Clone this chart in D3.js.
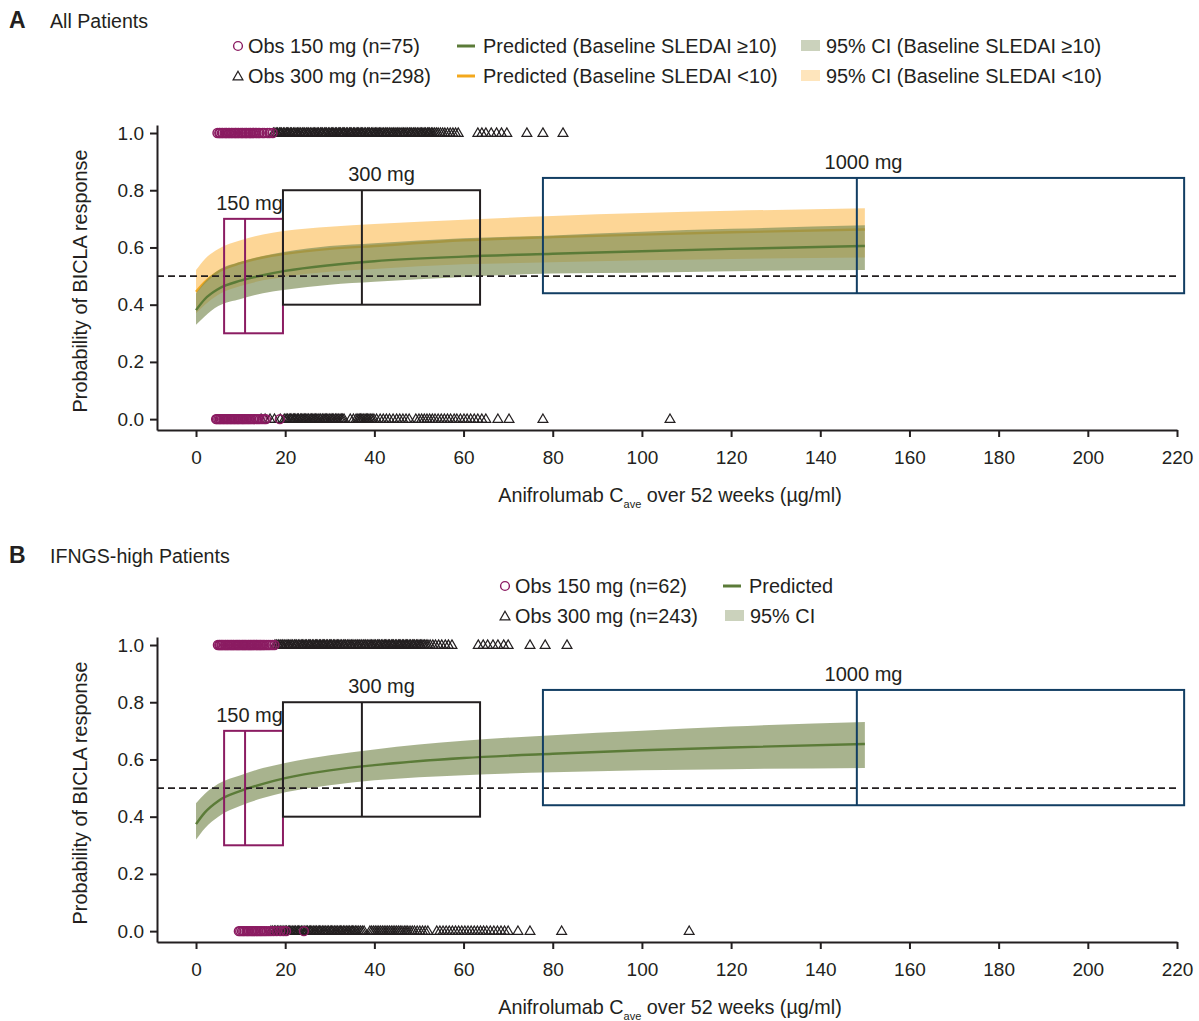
<!DOCTYPE html>
<html>
<head>
<meta charset="utf-8">
<script src="https://cdn.jsdelivr.net/npm/d3@7"></script>
<style>
body { margin: 0; background: #fff; }
text { font-family: "Liberation Sans", Arial, sans-serif; fill: #231f20; }
</style>
</head>
<body>
<svg id="chart" width="1199" height="1021"></svg>
<script>
// concentration grid for the model curves (ug/ml)
var concGrid = [0, 2, 5, 10, 15, 20, 30, 40, 60, 80, 100, 120, 150];

// panel A - baseline SLEDAI >= 10
var predHighA = [0.381, 0.420, 0.455, 0.484, 0.503, 0.518, 0.538, 0.552, 0.568, 0.578, 0.587, 0.595, 0.605];
var ciHighUpA = [0.440, 0.480, 0.520, 0.550, 0.570, 0.585, 0.605, 0.615, 0.632, 0.642, 0.655, 0.665, 0.678];
var ciHighLoA = [0.330, 0.360, 0.395, 0.420, 0.440, 0.452, 0.470, 0.480, 0.497, 0.509, 0.512, 0.517, 0.521];
// panel A - baseline SLEDAI < 10
var predLowA = [0.445, 0.480, 0.515, 0.545, 0.565, 0.578, 0.595, 0.605, 0.625, 0.636, 0.645, 0.653, 0.663];
var ciLowUpA = [0.521, 0.560, 0.595, 0.625, 0.645, 0.658, 0.672, 0.682, 0.697, 0.710, 0.720, 0.728, 0.737];
var ciLowLoA = [0.370, 0.400, 0.435, 0.465, 0.485, 0.498, 0.515, 0.525, 0.541, 0.548, 0.555, 0.560, 0.565];
// panel B - IFNGS-high
var predB = [0.374, 0.415, 0.455, 0.490, 0.515, 0.535, 0.562, 0.580, 0.605, 0.620, 0.632, 0.642, 0.654];
var ciUpB = [0.447, 0.480, 0.515, 0.545, 0.570, 0.588, 0.615, 0.635, 0.665, 0.685, 0.700, 0.715, 0.731];
var ciLoB = [0.320, 0.360, 0.400, 0.438, 0.465, 0.485, 0.510, 0.527, 0.545, 0.555, 0.562, 0.566, 0.570];

// observed exposure, responders (1) and non-responders (0)
var obsA150Resp = [4.8, 5.2, 5.4, 5.8, 6.0, 6.4, 6.7, 6.9, 7.3, 7.5, 7.9, 8.1, 8.5, 8.8, 9.0, 9.4, 9.6, 10.0, 10.3, 10.5, 10.9, 11.2, 11.4, 11.8, 12.1, 12.3, 12.7, 12.9, 13.3, 13.6, 14.0, 14.3, 14.9, 15.3, 16.0, 16.5, 17.2];
var obsA150Non = [4.5, 4.7, 5.0, 5.3, 5.5, 5.8, 6.1, 6.3, 6.6, 6.9, 7.1, 7.4, 7.7, 7.9, 8.2, 8.5, 8.7, 9.0, 9.3, 9.5, 9.8, 10.1, 10.4, 10.6, 10.9, 11.2, 11.5, 11.8, 12.1, 12.4, 12.8, 13.1, 13.5, 13.9, 14.3, 14.8, 15.3, 15.7, 18.8];
var obsA300Resp = [17.4, 17.7, 18.1, 18.3, 18.7, 19.0, 19.2, 19.6, 19.9, 20.3, 20.5, 20.8, 21.2, 21.4, 21.8, 22.0, 22.4, 22.7, 22.9, 23.3, 23.5, 23.9, 24.2, 24.4, 24.8, 25.1, 25.3, 25.7, 26.0, 26.4, 26.6, 26.9, 27.3, 27.5, 27.9, 28.2, 28.4, 28.8, 29.1, 29.3, 29.7, 30.0, 30.4, 30.6, 30.9, 31.3, 31.5, 31.9, 32.2, 32.4, 32.8, 33.1, 33.3, 33.7, 34.0, 34.4, 34.6, 34.9, 35.3, 35.5, 35.9, 36.2, 36.4, 36.8, 37.1, 37.3, 37.7, 38.0, 38.4, 38.6, 38.9, 39.3, 39.5, 39.9, 40.2, 40.4, 40.8, 41.1, 41.3, 41.7, 42.0, 42.4, 42.6, 42.9, 43.3, 43.5, 43.9, 44.2, 44.4, 44.8, 45.1, 45.3, 45.7, 46.0, 46.4, 46.6, 46.9, 47.3, 47.5, 47.9, 48.2, 48.4, 48.8, 49.1, 49.3, 49.7, 50.0, 50.4, 50.6, 50.9, 51.3, 51.5, 51.9, 52.2, 52.4, 52.8, 53.1, 53.5, 53.9, 54.3, 54.8, 55.3, 55.8, 56.4, 57.0, 57.6, 58.2, 58.8, 63.2, 64.1, 65.0, 66.2, 67.4, 68.5, 69.7, 74.2, 77.8, 82.3];
var obsA300Non = [14.6, 15.5, 16.6, 17.6, 18.9, 19.8, 20.2, 20.5, 20.9, 21.2, 21.5, 21.9, 22.1, 22.4, 22.8, 23.0, 23.4, 23.7, 24.0, 24.3, 24.6, 24.9, 25.2, 25.6, 25.9, 26.2, 26.5, 26.8, 27.1, 27.4, 27.8, 28.0, 28.4, 28.7, 29.0, 29.3, 29.6, 30.0, 30.3, 30.6, 30.9, 31.3, 31.6, 31.9, 32.3, 32.6, 32.9, 33.2, 34.6, 35.3, 35.9, 36.3, 36.6, 36.9, 37.2, 37.5, 37.9, 38.2, 38.5, 38.8, 39.2, 39.5, 39.9, 40.5, 41.3, 42.0, 42.7, 43.4, 44.2, 45.0, 45.7, 46.4, 47.1, 47.8, 49.3, 50.0, 50.6, 51.2, 51.8, 52.4, 53.0, 53.6, 54.3, 55.0, 55.7, 56.4, 57.1, 57.9, 58.5, 59.3, 60.1, 60.8, 61.6, 62.4, 63.2, 64.1, 65.0, 67.7, 70.2, 77.8, 106.3];
var obsB150Resp = [4.9, 5.2, 5.4, 5.7, 5.9, 6.2, 6.5, 6.7, 7.0, 7.2, 7.5, 7.8, 8.0, 8.3, 8.5, 8.8, 9.1, 9.3, 9.6, 9.8, 10.1, 10.4, 10.6, 10.9, 11.1, 11.4, 11.7, 11.9, 12.2, 12.4, 12.7, 13.0, 13.2, 13.5, 13.7, 14.0, 14.3, 14.5, 14.8, 15.1, 15.4, 15.8, 16.2, 16.6, 17.1, 17.6];
var obsB150Non = [9.6, 9.9, 10.3, 10.6, 10.9, 11.3, 11.6, 11.9, 12.3, 12.6, 12.9, 13.3, 13.6, 13.9, 14.3, 14.6, 15.0, 15.4, 15.8, 16.3, 16.8, 17.4, 18.1, 18.9, 19.6, 20.2, 24.2];
var obsB300Resp = [17.7, 18.0, 18.4, 18.6, 19.0, 19.3, 19.5, 19.9, 20.2, 20.6, 20.8, 21.1, 21.5, 21.7, 22.1, 22.4, 22.6, 23.0, 23.3, 23.7, 23.9, 24.2, 24.6, 24.8, 25.2, 25.5, 25.7, 26.1, 26.4, 26.8, 27.0, 27.3, 27.7, 27.9, 28.3, 28.6, 28.8, 29.2, 29.5, 29.9, 30.1, 30.4, 30.8, 31.0, 31.4, 31.7, 31.9, 32.3, 32.6, 33.0, 33.2, 33.5, 33.9, 34.1, 34.5, 34.8, 35.0, 35.4, 35.7, 36.1, 36.3, 36.6, 37.0, 37.2, 37.6, 37.9, 38.1, 38.5, 38.8, 39.2, 39.4, 39.7, 40.1, 40.3, 40.7, 41.0, 41.2, 41.6, 41.9, 42.3, 42.5, 42.8, 43.2, 43.4, 43.8, 44.1, 44.3, 44.7, 45.0, 45.4, 45.6, 45.9, 46.3, 46.5, 46.9, 47.2, 47.4, 47.8, 48.1, 48.5, 48.7, 49.0, 49.4, 49.6, 50.0, 50.3, 50.5, 50.9, 51.2, 51.6, 52.0, 52.5, 53.1, 53.7, 54.4, 55.1, 55.9, 56.6, 57.4, 63.3, 64.4, 65.4, 66.6, 67.7, 69.0, 70.0, 74.9, 78.3, 83.2];
var obsB300Non = [16.8, 17.2, 17.6, 17.9, 18.3, 18.6, 19.0, 19.3, 19.7, 20.0, 20.3, 20.7, 21.0, 21.3, 21.7, 22.0, 22.3, 22.7, 23.0, 23.3, 23.7, 24.0, 24.4, 24.7, 25.0, 25.4, 25.7, 26.0, 26.4, 26.7, 27.0, 27.4, 27.7, 28.0, 28.4, 28.7, 29.0, 29.4, 29.7, 30.1, 30.4, 30.7, 31.1, 31.4, 31.7, 32.1, 32.4, 32.7, 33.1, 33.4, 33.8, 34.1, 34.4, 34.8, 35.1, 35.4, 35.8, 36.1, 36.5, 36.9, 37.3, 37.7, 39.0, 39.4, 39.8, 40.2, 40.6, 41.0, 41.4, 41.8, 42.2, 42.6, 43.0, 43.4, 43.8, 44.2, 44.6, 45.0, 45.4, 45.8, 46.2, 46.7, 47.1, 47.5, 48.0, 48.5, 49.0, 49.6, 50.2, 50.8, 51.4, 52.0, 54.0, 54.7, 55.4, 56.1, 56.8, 57.5, 58.2, 58.9, 59.6, 60.3, 61.0, 61.7, 62.4, 63.1, 63.8, 64.5, 65.2, 66.0, 66.8, 67.6, 68.4, 69.2, 70.0, 72.2, 74.9, 82.0, 110.6];

// simulated exposure boxes per dose (q1, median, q3 of Cave)
var doseLabels = ['150 mg', '300 mg', '1000 mg'];
var doseQ1 = [6.3, 19.5, 77.8];
var doseMed = [11.0, 37.2, 148.2];
var doseQ3 = [19.5, 63.7, 221.6];
var boxLo = [0.30, 0.40, 0.44];
var boxHi = [0.70, 0.80, 0.843];

var xTicks = [0, 20, 40, 60, 80, 100, 120, 140, 160, 180, 200, 220];
var yTicks = [0, 0.2, 0.4, 0.6, 0.8, 1.0];

var ink = '#231f20', purple = '#8b1c62', navy = '#123e63';
var greenLine = '#5b7b38', greenBand = '#7d8e57';
var orangeLine = '#f3a81d', orangeBand = '#fbb540';

var svg = d3.select('#chart');
svg.append('rect').attr('width', 1199).attr('height', 1021).attr('fill', '#fff');

var x = d3.scaleLinear().domain([-8.75, 220]).range([157, 1177]);

function series(vals) {
    return concGrid.map(function(c, i) { return {c: c, v: vals[i]}; });
}
function bandData(lo, hi) {
    return concGrid.map(function(c, i) { return {c: c, lo: lo[i], hi: hi[i]}; });
}

var triangle = d3.symbol().type(d3.symbolTriangle).size(42);

function drawPanel(p) {
    var g = svg.append('g');
    var y = d3.scaleLinear().domain([-0.038, 1.028]).range([p.axisY, p.axisY - 305]);

    var area = d3.area().curve(d3.curveMonotoneX)
        .x(function(d) { return x(d.c); })
        .y0(function(d) { return y(d.lo); })
        .y1(function(d) { return y(d.hi); });
    var line = d3.line().curve(d3.curveMonotoneX)
        .x(function(d) { return x(d.c); })
        .y(function(d) { return y(d.v); });

    // title
    g.append('text').attr('x', 9).attr('y', p.titleY)
        .style('font-size', '23px').style('font-weight', 'bold').text(p.key);
    g.append('text').attr('x', 50).attr('y', p.titleY)
        .style('font-size', '19.6px').text(p.title);

    // model curves
    p.curves.forEach(function(cv) {
        g.append('path').datum(bandData(cv.lo, cv.hi))
            .attr('d', area).attr('fill', cv.band).attr('fill-opacity', cv.bandOpacity);
        g.append('path').datum(series(cv.pred))
            .attr('d', line).attr('fill', 'none').attr('stroke', cv.line).attr('stroke-width', 2.4);
    });

    // 50% reference line
    g.append('line')
        .attr('x1', x(-8.75)).attr('x2', x(220))
        .attr('y1', y(0.5)).attr('y2', y(0.5))
        .attr('stroke', ink).attr('stroke-width', 1.8).attr('stroke-dasharray', '7,4');

    // exposure boxes
    var boxColors = [purple, ink, navy];
    doseLabels.forEach(function(lbl, i) {
        var bg = g.append('g').attr('fill', 'none').attr('stroke', boxColors[i]).attr('stroke-width', 2);
        bg.append('rect')
            .attr('x', x(doseQ1[i])).attr('y', y(boxHi[i]))
            .attr('width', x(doseQ3[i]) - x(doseQ1[i]))
            .attr('height', y(boxLo[i]) - y(boxHi[i]));
        bg.append('line')
            .attr('x1', x(doseMed[i])).attr('x2', x(doseMed[i]))
            .attr('y1', y(boxHi[i])).attr('y2', y(boxLo[i]));
        g.append('text')
            .attr('x', (x(doseQ1[i]) + x(doseQ3[i])) / 2 - (i === 0 ? 4 : 0))
            .attr('y', y(boxHi[i]) - 9)
            .attr('text-anchor', 'middle').style('font-size', '20px').text(lbl);
    });

    // observations
    p.obs.forEach(function(o) {
        if (o.shape === 'circle') {
            g.selectAll(null).data(o.vals).enter().append('circle')
                .attr('cx', function(d) { return x(d); }).attr('cy', y(o.resp))
                .attr('r', 4.4).attr('fill', 'none').attr('stroke', purple).attr('stroke-width', 1.5);
        } else {
            g.selectAll(null).data(o.vals).enter().append('path')
                .attr('d', triangle)
                .attr('transform', function(d) { return 'translate(' + x(d) + ',' + (y(o.resp) + 0.5) + ')'; })
                .attr('fill', 'none').attr('stroke', ink).attr('stroke-width', 1.2);
        }
    });

    // axes
    var xAxis = d3.axisBottom(x).tickValues(xTicks).tickSize(7).tickSizeOuter(0)
        .tickPadding(14).tickFormat(d3.format('d'));
    var yAxis = d3.axisLeft(y).tickValues(yTicks).tickSize(7).tickSizeOuter(0)
        .tickPadding(6).tickFormat(d3.format('.1f'));
    [g.append('g').attr('transform', 'translate(0,' + p.axisY + ')').call(xAxis),
     g.append('g').attr('transform', 'translate(157,0)').call(yAxis)].forEach(function(ax) {
        ax.select('.domain').attr('stroke', ink).attr('stroke-width', 2);
        ax.selectAll('.tick line').attr('stroke', ink).attr('stroke-width', 2);
        ax.selectAll('.tick text').style('font-size', '19px').style('font-family', '"Liberation Sans", Arial, sans-serif').attr('fill', ink);
    });

    // axis titles
    var xl = g.append('text').attr('x', 670).attr('y', p.axisY + 72)
        .attr('text-anchor', 'middle').style('font-size', '19.8px');
    xl.append('tspan').text('Anifrolumab C');
    xl.append('tspan').attr('dy', 6).style('font-size', '11px').text('ave');
    xl.append('tspan').attr('dy', -6).text(' over 52 weeks (\u00b5g/ml)');

    g.append('text')
        .attr('transform', 'translate(87,' + (p.axisY - 149) + ') rotate(-90)')
        .attr('text-anchor', 'middle').style('font-size', '19.8px')
        .text('Probability of BICLA response');

    // legend
    p.legend.forEach(function(it) {
        var lg = g.append('g'), dx = 10;
        if (it.kind === 'circle') {
            lg.append('circle').attr('cx', it.x).attr('cy', it.y - 7).attr('r', 4.4)
                .attr('fill', 'none').attr('stroke', purple).attr('stroke-width', 1.4);
        } else if (it.kind === 'triangle') {
            lg.append('path').attr('d', triangle)
                .attr('transform', 'translate(' + it.x + ',' + (it.y - 6) + ')')
                .attr('fill', 'none').attr('stroke', ink).attr('stroke-width', 1.2);
        } else if (it.kind === 'line') {
            dx = 17;
            lg.append('line').attr('x1', it.x - 9).attr('x2', it.x + 9)
                .attr('y1', it.y - 7).attr('y2', it.y - 7)
                .attr('stroke', it.color).attr('stroke-width', 3);
        } else {
            dx = 15;
            lg.append('rect').attr('x', it.x - 10).attr('y', it.y - 13).attr('width', 19).attr('height', 11)
                .attr('fill', it.color).attr('fill-opacity', it.opacity);
        }
        lg.append('text').attr('x', it.x + dx)
            .attr('y', it.y).style('font-size', '19.9px').text(it.label);
    });
}

drawPanel({
    key: 'A', title: 'All Patients', titleY: 28, axisY: 430,
    curves: [
        {pred: predLowA, lo: ciLowLoA, hi: ciLowUpA, band: orangeBand, bandOpacity: 0.55, line: orangeLine},
        {pred: predHighA, lo: ciHighLoA, hi: ciHighUpA, band: greenBand, bandOpacity: 0.67, line: greenLine}
    ],
    obs: [
        {vals: obsA300Resp, resp: 1, shape: 'triangle'},
        {vals: obsA300Non, resp: 0, shape: 'triangle'},
        {vals: obsA150Resp, resp: 1, shape: 'circle'},
        {vals: obsA150Non, resp: 0, shape: 'circle'}
    ],
    legend: [
        {kind: 'circle', x: 238, y: 53, label: 'Obs 150 mg (n=75)'},
        {kind: 'triangle', x: 238, y: 83, label: 'Obs 300 mg (n=298)'},
        {kind: 'line', x: 466, y: 53, color: greenLine, label: 'Predicted (Baseline SLEDAI \u226510)'},
        {kind: 'line', x: 466, y: 83, color: orangeLine, label: 'Predicted (Baseline SLEDAI <10)'},
        {kind: 'rect', x: 811, y: 53, color: greenBand, opacity: 0.4, label: '95% CI (Baseline SLEDAI \u226510)'},
        {kind: 'rect', x: 811, y: 83, color: orangeBand, opacity: 0.35, label: '95% CI (Baseline SLEDAI <10)'}
    ]
});

drawPanel({
    key: 'B', title: 'IFNGS-high Patients', titleY: 563, axisY: 942,
    curves: [
        {pred: predB, lo: ciLoB, hi: ciUpB, band: greenBand, bandOpacity: 0.67, line: greenLine}
    ],
    obs: [
        {vals: obsB300Resp, resp: 1, shape: 'triangle'},
        {vals: obsB300Non, resp: 0, shape: 'triangle'},
        {vals: obsB150Resp, resp: 1, shape: 'circle'},
        {vals: obsB150Non, resp: 0, shape: 'circle'}
    ],
    legend: [
        {kind: 'circle', x: 505, y: 593, label: 'Obs 150 mg (n=62)'},
        {kind: 'triangle', x: 505, y: 623, label: 'Obs 300 mg (n=243)'},
        {kind: 'line', x: 732, y: 593, color: greenLine, label: 'Predicted'},
        {kind: 'rect', x: 735, y: 623, color: greenBand, opacity: 0.4, label: '95% CI'}
    ]
});
</script>
</body>
</html>
